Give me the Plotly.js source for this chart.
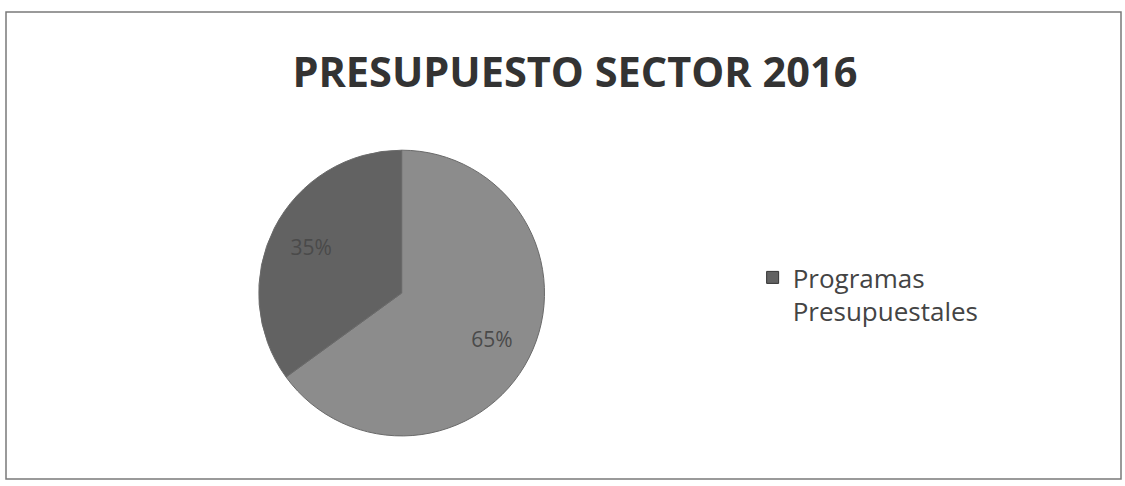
<!DOCTYPE html>
<html>
<head>
<meta charset="utf-8">
<script src="https://cdn.plot.ly/plotly-3.0.1.min.js"></script>
<style>html,body{margin:0;padding:0;background:#fff;}#chart{width:1125px;height:486px;}</style>
</head>
<body>
<div id="chart"></div>
<script>
const chartTitle = "PRESUPUESTO SECTOR 2016";
const sliceLabels = ["Otros", "Programas Presupuestales"];
const sliceValues = [65, 35];
const sliceColors = ["#8c8c8c", "#626262"];
const legendName = "Programas<br>Presupuestales";
const legendColor = "#626262";

const pieDomain = {x: [0.230, 0.484], y: [0.103, 0.691]};

const pie = {
  type: "pie",
  labels: sliceLabels,
  values: sliceValues,
  sort: false,
  direction: "clockwise",
  rotation: 0,
  showlegend: false,
  textinfo: "none",
  marker: {colors: sliceColors, line: {color: "#6a6a6a", width: 1}},
  domain: pieDomain,
  hoverinfo: "label+percent"
};

// transparent ring on top, used only to place the percent labels further out
const pieText = {
  type: "pie",
  labels: sliceLabels,
  values: sliceValues,
  sort: false,
  direction: "clockwise",
  rotation: 0,
  hole: 0.42,
  showlegend: false,
  textinfo: "percent",
  textposition: "inside",
  insidetextorientation: "horizontal",
  textfont: {family: "Open Sans, sans-serif", size: 21, color: "#4a4a4a"},
  marker: {colors: ["rgba(0,0,0,0)", "rgba(0,0,0,0)"], line: {width: 0}},
  domain: pieDomain,
  hoverinfo: "skip"
};

const legendTrace = {
  type: "scatter",
  mode: "markers",
  x: [null], y: [null],
  name: legendName,
  showlegend: true,
  marker: {symbol: "square", size: 12, color: legendColor, line: {color: "#333", width: 1}},
  hoverinfo: "skip"
};

const layout = {
  width: 1125, height: 486,
  margin: {l: 0, r: 0, t: 0, b: 0},
  paper_bgcolor: "#ffffff",
  plot_bgcolor: "#ffffff",
  title: {
    text: "<b>" + chartTitle + "</b>",
    font: {family: "Open Sans, sans-serif", size: 41.5, color: "#333333"},
    x: 0.511, xanchor: "center",
    y: 1 - 72/486, yanchor: "middle"
  },
  xaxis: {visible: false},
  yaxis: {visible: false},
  showlegend: true,
  legend: {
    x: 0.669, xanchor: "left",
    y: 1 - 254/486, yanchor: "top",
    valign: "top",
    font: {family: "Open Sans, sans-serif", size: 26, color: "#444444"},
    bgcolor: "rgba(0,0,0,0)"
  },
  shapes: [{
    type: "rect", xref: "paper", yref: "paper",
    x0: 6/1125, x1: 1121/1125, y0: 1 - 479/486, y1: 1 - 12/486,
    line: {color: "#7a7a7a", width: 1.5}
  }]
};

Plotly.newPlot("chart", [pie, pieText, legendTrace], layout, {displayModeBar: false, staticPlot: true});
</script>
</body>
</html>
